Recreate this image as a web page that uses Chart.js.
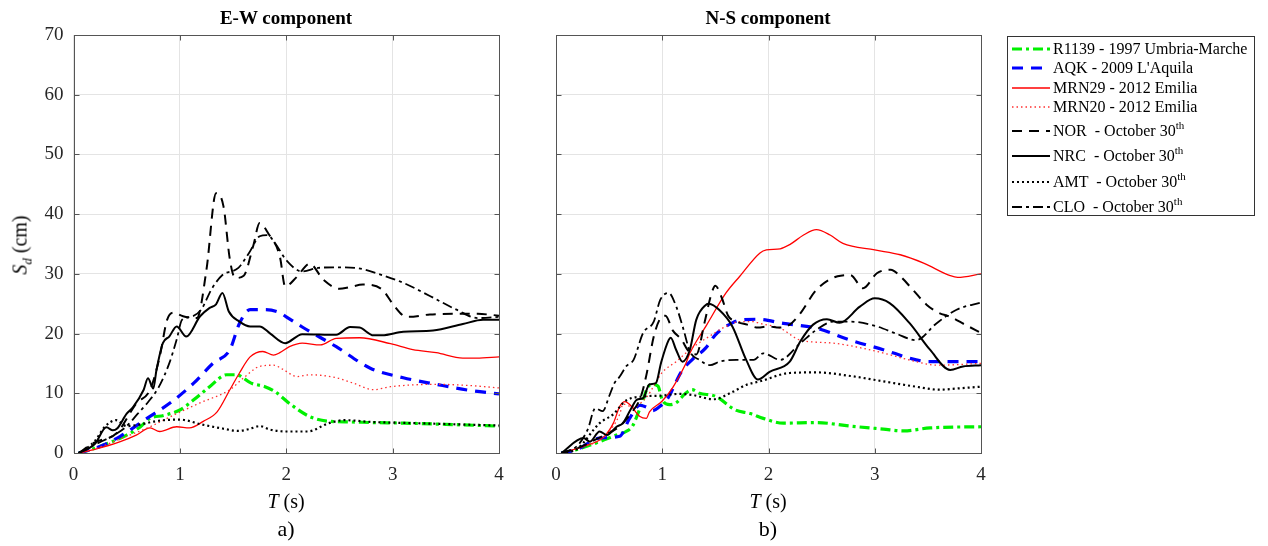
<!DOCTYPE html>
<html><head><meta charset="utf-8">
<script src="https://cdn.jsdelivr.net/npm/chart.js@4.4.0/dist/chart.umd.min.js"></script>
<style>
body{margin:0;background:#fff;width:1268px;height:546px;overflow:hidden;position:relative;font-family:"Liberation Serif","Times New Roman",serif;color:#000}
canvas{position:absolute;top:0}
.lbl{position:absolute;white-space:nowrap;transform:translate(-50%,-50%)}
.leg{position:absolute;left:1007px;top:36px;width:248px;height:180px;border:1px solid #333;box-sizing:border-box}
.row{position:absolute;left:0;height:20px;width:248px}
.row svg{position:absolute;left:4px;top:4px}
.row span{position:absolute;left:45px;top:0;font-size:16px;line-height:20px;white-space:pre}
.row sup{font-size:11px;vertical-align:baseline;position:relative;top:-7px}
</style></head><body>
<canvas id="ew" width="520" height="546" style="left:0"></canvas>
<canvas id="ns" width="490" height="546" style="left:520px"></canvas>

<div class="lbl" style="left:286px;top:18px;font-weight:bold;font-size:19px">E-W component</div>
<div class="lbl" style="left:768px;top:18px;font-weight:bold;font-size:19px">N-S component</div>
<div class="lbl" style="left:22px;top:245px;font-size:20px;transform:translate(-50%,-50%) rotate(-90deg)"><i>S<sub style="font-size:13px">d</sub></i> (cm)</div>
<div class="lbl" style="left:286px;top:501px;font-size:20px"><i>T</i> (s)</div>
<div class="lbl" style="left:768px;top:501px;font-size:20px"><i>T</i> (s)</div>
<div class="lbl" style="left:286px;top:529px;font-size:22px">a)</div>
<div class="lbl" style="left:768px;top:529px;font-size:22px">b)</div>
<div class="leg" id="leg"></div>

<script>
// ---------- tick labels ----------
const xTicks = [0, 1, 2, 3, 4];
const yTicks = [0, 10, 20, 30, 40, 50, 60, 70];

// ---------- E-W component ----------
const ewR1139T = [0.05,0.2,0.35,0.5,0.63,0.72,0.85,1.0,1.13,1.28,1.44,1.53,1.67,1.8,1.9,2.03,2.22,2.41,2.6,2.8,3.1,3.5,4.0];
const ewR1139S = [0,0.8,1.8,3.0,4.4,5.8,6.3,7.2,8.9,11.1,13.1,13.1,11.7,11.1,10.2,8.3,6.1,5.3,5.2,5.1,5.0,4.8,4.5];
const ewAQKT = [0.05,0.25,0.44,0.69,0.91,1.13,1.31,1.47,1.56,1.66,1.8,1.94,2.0,2.15,2.47,2.79,3.1,3.41,3.72,4.0];
const ewAQKS = [0,1.1,2.8,5.8,8.4,11.7,15.0,17.3,21.7,24.0,24.0,23.5,22.8,21.1,17.8,14.2,12.6,11.5,10.5,9.9];
const ewMRN29T = [0.05,0.2,0.44,0.59,0.72,0.81,0.97,1.09,1.22,1.35,1.47,1.56,1.66,1.78,1.88,1.94,2.03,2.15,2.32,2.47,2.69,2.98,3.19,3.41,3.66,3.79,4.0];
const ewMRN29S = [0,0.6,1.9,3.0,4.2,3.6,4.4,4.2,5.3,6.9,10.6,13.4,16.1,17.0,16.4,16.8,17.8,18.4,18.1,19.2,19.3,18.3,17.3,16.8,15.9,15.9,16.1];
const ewMRN20T = [0.05,0.2,0.5,0.72,0.97,1.19,1.47,1.6,1.75,1.88,1.97,2.1,2.22,2.47,2.63,2.82,2.98,3.41,3.72,4.0];
const ewMRN20S = [0,0.7,2.8,4.4,6.6,8.4,10.6,12.6,14.5,14.7,14.0,12.8,13.1,12.6,11.7,10.6,11.1,11.5,11.3,10.9];
const ewNORT = [0.05,0.19,0.41,0.59,0.72,0.81,0.88,0.94,1.03,1.16,1.25,1.34,1.41,1.47,1.52,1.6,1.69,1.75,1.83,1.94,1.99,2.1,2.22,2.35,2.5,2.6,2.72,2.9,3.0,3.1,3.15,3.35,3.6,3.8,4.0];
const ewNORS = [0,1.7,3.4,8.3,10.6,16.1,22.3,23.5,22.9,22.6,30.7,43.5,41.3,32.4,29.3,29.7,34.7,38.5,36.8,32.9,27.9,29.5,31.7,29.0,27.5,27.8,28.2,27.4,25.0,23.0,22.8,23.2,23.3,23.3,23.0];
const ewNRCT = [0.05,0.2,0.31,0.37,0.41,0.5,0.56,0.66,0.7,0.75,0.78,0.84,0.9,0.97,1.06,1.19,1.28,1.34,1.4,1.46,1.56,1.66,1.75,1.85,1.99,2.15,2.47,2.6,2.69,2.82,2.9,3.1,3.38,3.66,3.85,4.0];
const ewNRCS = [0,1.5,4.3,3.8,4.1,6.6,7.7,10.6,12.5,10.8,13.9,18.4,19.5,21.2,19.5,22.9,24.3,24.9,26.8,23.7,22.0,21.2,21.2,20.0,18.4,19.9,19.8,21.1,21.0,19.7,19.7,20.3,20.5,21.6,22.3,22.3];
const ewAMTT = [0.05,0.1,0.2,0.3,0.4,0.5,0.6,0.8,1.0,1.2,1.4,1.55,1.65,1.75,1.85,2.0,2.2,2.4,2.55,2.8,3.2,3.6,4.0];
const ewAMTS = [0,0.5,2.0,4.5,5.5,4.5,4.7,5.4,5.6,4.8,4.1,3.7,4.0,4.5,3.9,3.6,3.6,5.0,5.5,5.2,5.0,4.8,4.6];
const ewCLOT = [0.05,0.19,0.41,0.5,0.6,0.7,0.8,0.9,0.97,1.02,1.1,1.2,1.3,1.4,1.55,1.65,1.75,1.82,1.9,2.0,2.15,2.3,2.5,2.65,2.9,3.1,3.35,3.6,3.8,4.0];
const ewCLOS = [0,1.3,3.3,4.5,6.5,8.5,11.0,15.0,19.0,22.3,22.8,24.0,27.5,29.8,31.0,33.5,36.3,36.5,35.0,32.3,30.4,31.0,31.1,31.0,29.8,28.5,26.3,24.0,22.6,22.8];

// ---------- N-S component ----------
const nsR1139T = [0.05,0.2,0.41,0.57,0.66,0.72,0.76,0.82,0.86,0.91,0.96,1.0,1.07,1.13,1.22,1.28,1.35,1.5,1.69,1.83,1.95,2.14,2.45,2.77,3.08,3.27,3.52,4.0];
const nsR1139S = [0,0.6,1.9,3.0,3.6,4.5,6.1,8.9,10.9,11.5,11.2,8.9,8.1,8.4,10.0,10.6,10.0,9.5,7.2,6.6,5.8,5.0,5.1,4.5,4.0,3.7,4.2,4.4];
const nsAQKT = [0.05,0.2,0.41,0.6,0.69,0.79,0.85,0.91,0.97,1.05,1.18,1.28,1.41,1.5,1.66,1.75,1.9,2.14,2.45,2.77,3.08,3.39,3.51,4.0];
const nsAQKS = [0,0.6,2.5,2.8,5.7,8.0,7.7,7.1,7.7,9.1,13.6,15.6,17.6,19.8,21.8,22.3,22.4,21.7,20.9,18.9,17.3,15.6,15.3,15.3];
const nsMRN29T = [0.05,0.26,0.45,0.54,0.6,0.65,0.7,0.79,0.85,0.88,1.0,1.1,1.22,1.26,1.42,1.6,1.73,1.92,1.98,2.11,2.2,2.33,2.45,2.58,2.7,3.0,3.24,3.46,3.71,3.78,4.0];
const nsMRN29S = [0,1.1,2.7,5.0,7.8,8.6,8.0,6.1,5.8,6.9,8.7,11.0,14.9,16.7,21.5,26.8,29.6,33.5,34.0,34.2,34.9,36.5,37.4,36.5,35.1,34.0,33.2,31.8,29.7,29.4,30.0];
const nsMRN20T = [0.05,0.2,0.45,0.6,0.63,0.72,0.85,1.0,1.13,1.28,1.44,1.6,1.73,1.86,1.92,2.11,2.3,2.61,3.02,3.39,3.58,4.0];
const nsMRN20S = [0,0.8,2.7,6.5,8.2,7.7,9.3,13.5,15.3,17.6,19.5,21.2,22.0,22.0,21.7,20.9,18.9,18.4,17.0,15.3,14.7,15.0];
const nsNORT = [0.05,0.2,0.4,0.6,0.7,0.8,0.85,0.92,0.98,1.03,1.1,1.18,1.25,1.32,1.4,1.46,1.5,1.56,1.62,1.7,1.8,1.9,2.0,2.1,2.2,2.3,2.45,2.65,2.77,2.89,3.02,3.15,3.24,3.36,3.49,3.6,3.71,3.85,4.0];
const nsNORS = [0,0.8,2.5,4.5,6.5,9.5,13.0,19.5,22.5,23.0,20.5,19.0,17.0,16.5,22.0,26.5,28.0,26.0,23.0,22.0,21.5,21.0,21.2,21.0,21.5,23.4,27.3,29.6,29.8,27.6,30.1,30.7,29.6,27.3,24.8,23.5,22.8,21.5,20.1];
const nsNRCT = [0.05,0.26,0.32,0.41,0.48,0.57,0.63,0.7,0.76,0.82,0.88,0.94,0.99,1.06,1.08,1.13,1.19,1.26,1.32,1.41,1.44,1.54,1.66,1.79,1.9,2.01,2.2,2.3,2.42,2.55,2.67,2.86,3.0,3.14,3.33,3.52,3.71,3.83,4.0];
const nsNRCS = [0,2.5,1.9,3.6,3.0,4.4,5.0,7.2,8.9,9.2,11.5,11.7,15.2,18.9,19.3,17.3,15.3,17.3,22.3,24.8,25.0,23.9,21.2,15.6,12.3,13.6,15.3,18.7,21.5,22.4,21.8,24.5,25.9,25.1,21.7,17.3,13.9,14.5,14.7];
const nsAMTT = [0.05,0.2,0.41,0.54,0.66,0.85,0.98,1.17,1.29,1.48,1.67,1.79,1.92,2.2,2.45,2.77,3.08,3.39,3.61,3.77,4.0];
const nsAMTS = [0,0.7,5.0,6.5,8.8,9.5,9.6,9.9,9.7,9.0,10.3,11.4,12.0,13.4,13.5,12.9,12.0,11.1,10.6,10.8,11.1];
const nsCLOT = [0.05,0.2,0.3,0.37,0.44,0.5,0.55,0.6,0.66,0.73,0.82,0.92,0.98,1.06,1.13,1.2,1.26,1.35,1.45,1.54,1.7,1.86,1.95,2.11,2.3,2.45,2.61,2.77,3.02,3.2,3.39,3.58,3.77,4.0];
const nsCLOS = [0,1.2,4.0,7.5,7.0,9.5,11.7,12.8,14.5,15.6,20.1,22.0,25.6,26.8,24.6,20.7,17.0,15.6,14.7,15.3,15.6,15.6,16.7,15.6,18.4,20.6,22.0,22.0,21.2,20.0,18.9,21.7,24.0,25.2];

// ---------- series names ----------
const seriesNames = ['R1139 - 1997 Umbria-Marche','AQK - 2009 L\'Aquila','MRN29 - 2012 Emilia','MRN20 - 2012 Emilia','NOR  - October 30','NRC  - October 30','AMT  - October 30','CLO  - October 30'];
const seriesSup = ['','','','','th','th','th','th'];

const styles = [
  {color:'#00f000', width:3.2, dash:[10,4,3,4]},
  {color:'#0000ff', width:3.2, dash:[11,8]},
  {color:'#ff0000', width:1.3, dash:[]},
  {color:'#ff3030', width:1.3, dash:[1.5,3]},
  {color:'#000000', width:2, dash:[10,7]},
  {color:'#000000', width:2, dash:[]},
  {color:'#000000', width:2.2, dash:[2,3]},
  {color:'#000000', width:1.8, dash:[10,4,3,4]}
];

function mk(T,S){ return T.map((t,i)=>({x:t,y:S[i]})); }
const ewData = [mk(ewR1139T,ewR1139S),mk(ewAQKT,ewAQKS),mk(ewMRN29T,ewMRN29S),mk(ewMRN20T,ewMRN20S),mk(ewNORT,ewNORS),mk(ewNRCT,ewNRCS),mk(ewAMTT,ewAMTS),mk(ewCLOT,ewCLOS)];
const nsData = [mk(nsR1139T,nsR1139S),mk(nsAQKT,nsAQKS),mk(nsMRN29T,nsMRN29S),mk(nsMRN20T,nsMRN20S),mk(nsNORT,nsNORS),mk(nsNRCT,nsNRCS),mk(nsAMTT,nsAMTS),mk(nsCLOT,nsCLOS)];

function datasets(data){
  return data.map((d,i)=>({label:seriesNames[i], data:d, borderColor:styles[i].color, borderWidth:styles[i].width,
    borderDash:styles[i].dash, pointRadius:0, fill:false, cubicInterpolationMode:'monotone', order: 8-i}));
}

const boxPlugin = {id:'box', afterDraw(c){
  const a=c.chartArea, ctx=c.ctx; ctx.save();
  ctx.strokeStyle='#555'; ctx.lineWidth=1;
  const L=Math.round(a.left)+0.5, R=Math.round(a.right)+0.5, T=Math.round(a.top)+0.5, B=Math.round(a.bottom)+0.5;
  ctx.strokeRect(L,T,R-L,B-T);
  ctx.beginPath();
  xTicks.forEach(v=>{const p=Math.round(c.scales.x.getPixelForValue(v))+0.5; ctx.moveTo(p,B); ctx.lineTo(p,B-5); ctx.moveTo(p,T); ctx.lineTo(p,T+5);});
  yTicks.forEach(v=>{const p=Math.round(c.scales.y.getPixelForValue(v))+0.5; ctx.moveTo(L,p); ctx.lineTo(L+5,p); ctx.moveTo(R,p); ctx.lineTo(R-5,p);});
  ctx.stroke(); ctx.restore();
}};

function makeChart(id, data, showY, yWidth, padRight){
  new Chart(document.getElementById(id), {
    type:'line',
    data:{datasets:datasets(data)},
    options:{
      responsive:false, animation:false, devicePixelRatio:1,
      layout:{padding:{top:35,right:padRight,left:0,bottom:0}},
      plugins:{legend:{display:false}, tooltip:{enabled:false}},
      scales:{
        x:{type:'linear', min:0, max:4, afterBuildTicks:s=>{s.ticks=xTicks.map(v=>({value:v}));},
           grid:{color:'#e4e4e4', drawTicks:false}, border:{display:false},
           ticks:{padding:11, color:'#262626', font:{family:'Liberation Serif', size:19}, maxRotation:0},
           afterFit:s=>{s.height=93;}},
        y:{type:'linear', min:0, max:70, afterBuildTicks:s=>{s.ticks=yTicks.map(v=>({value:v}));},
           grid:{color:'#e4e4e4', drawTicks:false}, border:{display:false},
           ticks:{display:showY, padding:10, color:'#262626', font:{family:'Liberation Serif', size:19}},
           afterFit:s=>{s.width=yWidth;}}
      }
    },
    plugins:[boxPlugin]
  });
}
makeChart('ew', ewData, true, 73.5, 21);
makeChart('ns', nsData, false, 36, 29);

// ---------- legend ----------
const rowY = [2,21,41,60,84,109,135,160];
const leg = document.getElementById('leg');
seriesNames.forEach((n,i)=>{
  const r=document.createElement('div'); r.className='row'; r.style.top=rowY[i]+'px';
  const st=styles[i];
  r.innerHTML = `<svg width="38" height="12"><line x1="0" y1="6" x2="38" y2="6" stroke="${st.color}" stroke-width="${st.width}" stroke-dasharray="${st.dash.join(' ')}"/></svg>`+
    `<span>${n}${seriesSup[i]?'<sup>'+seriesSup[i]+'</sup>':''}</span>`;
  leg.appendChild(r);
});
</script>
</body></html>
